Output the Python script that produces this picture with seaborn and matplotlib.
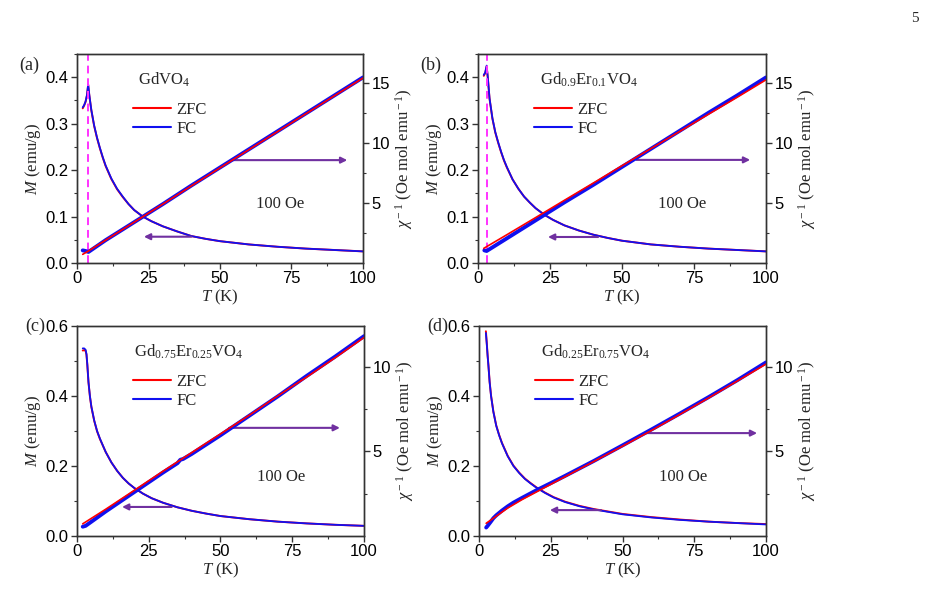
import numpy as np
import pandas as pd
import matplotlib
matplotlib.use("Agg")
import matplotlib.pyplot as plt
from matplotlib.lines import Line2D
from matplotlib.ticker import MultipleLocator, FixedLocator
import seaborn as sns

# ==============================================================================
# DATOS
# ==============================================================================
# (a) GdVO4
T_A_M = [2.0, 2.5, 3.0, 3.5, 3.9, 4.3, 5, 6, 7, 8, 9, 10, 12, 14, 16, 18, 20, 23, 26,
         30, 35, 40, 45, 50, 60, 70, 80, 90, 100]
A_FC_M = [0.335, 0.340, 0.348, 0.362, 0.385, 0.362, 0.330, 0.296, 0.270, 0.248, 0.228,
          0.210, 0.182, 0.160, 0.143, 0.127, 0.114, 0.100, 0.090, 0.079, 0.068, 0.058,
          0.052, 0.047, 0.040, 0.035, 0.031, 0.028, 0.025]
A_ZFC_M = [0.333, 0.339, 0.347, 0.361, 0.383, 0.361, 0.329, 0.295, 0.269, 0.247, 0.227,
           0.209, 0.181, 0.159, 0.142, 0.127, 0.114, 0.100, 0.090, 0.079, 0.068, 0.058,
           0.052, 0.047, 0.040, 0.035, 0.031, 0.028, 0.025]
T_A_FC_CHI = [2.0, 3.0, 4.0, 10, 20, 30, 40, 50, 60, 70, 80, 90, 100]
A_FC_CHI = [1.05, 1.00, 0.92, 1.90, 3.40, 4.90, 6.45, 7.95, 9.45, 10.95, 12.45, 13.95, 15.45]
T_A_ZFC_CHI = [2.0, 4.0, 10, 20, 30, 40, 50, 60, 70, 80, 90, 100]
A_ZFC_CHI = [0.72, 1.00, 1.90, 3.40, 4.90, 6.42, 7.92, 9.42, 10.92, 12.42, 13.92, 15.40]

# (b) Gd0.9Er0.1VO4
T_B_M = [2.0, 2.5, 3.0, 3.4, 4.0, 5, 6, 7, 8, 9, 10, 12, 14, 16, 18, 20, 23, 26, 30,
         35, 40, 45, 50, 60, 70, 80, 90, 100]
B_FC_M = [0.405, 0.410, 0.425, 0.400, 0.355, 0.312, 0.282, 0.260, 0.240, 0.222, 0.207,
          0.180, 0.160, 0.143, 0.130, 0.118, 0.104, 0.093, 0.081, 0.070, 0.061, 0.054,
          0.048, 0.040, 0.035, 0.031, 0.028, 0.025]
B_ZFC_M = [0.403, 0.409, 0.423, 0.399, 0.354, 0.311, 0.281, 0.259, 0.239, 0.221, 0.206,
           0.180, 0.160, 0.143, 0.130, 0.118, 0.104, 0.093, 0.081, 0.070, 0.061, 0.054,
           0.048, 0.040, 0.035, 0.031, 0.028, 0.025]
T_B_FC_CHI = [2.2, 3.0, 10, 20, 30, 40, 50, 60, 70, 80, 90, 100]
B_FC_CHI = [1.05, 1.00, 2.05, 3.55, 5.05, 6.5, 8.0, 9.5, 11.0, 12.5, 13.95, 15.45]
T_B_ZFC_CHI = [2.0, 10, 20, 30, 40, 50, 60, 70, 80, 90, 100]
B_ZFC_CHI = [1.22, 2.35, 3.78, 5.22, 6.65, 8.10, 9.52, 10.95, 12.38, 13.8, 15.25]

# (c) Gd0.75Er0.25VO4
T_C_M = [2.0, 2.5, 3.0, 3.3, 3.6, 4.0, 4.5, 5, 6, 7, 8, 10, 12, 14, 16, 18, 20, 23, 26,
         30, 35, 40, 45, 50, 60, 70, 80, 90, 100]
C_FC_M = [0.536, 0.536, 0.532, 0.520, 0.490, 0.440, 0.400, 0.370, 0.330, 0.300, 0.278,
          0.240, 0.210, 0.186, 0.166, 0.150, 0.137, 0.121, 0.108, 0.095, 0.082, 0.072,
          0.064, 0.057, 0.048, 0.041, 0.036, 0.032, 0.029]
C_ZFC_M = [0.530, 0.531, 0.529, 0.518, 0.488, 0.439, 0.399, 0.369, 0.329, 0.299, 0.277,
           0.240, 0.210, 0.186, 0.166, 0.150, 0.137, 0.121, 0.108, 0.095, 0.082, 0.072,
           0.064, 0.057, 0.048, 0.041, 0.036, 0.032, 0.029]
T_C_FC_CHI = [2.0, 3.0, 10, 20, 30, 35, 36, 37, 40, 50, 60, 70, 80, 90, 100]
C_FC_CHI = [0.55, 0.60, 1.45, 2.60, 3.75, 4.30, 4.50, 4.55, 4.85, 5.95, 7.10, 8.25,
            9.45, 10.60, 11.80]
T_C_ZFC_CHI = [2.0, 10, 20, 30, 40, 50, 60, 70, 80, 90, 100]
C_ZFC_CHI = [0.72, 1.58, 2.70, 3.83, 4.93, 6.03, 7.13, 8.28, 9.38, 10.53, 11.72]

# (d) Gd0.25Er0.75VO4
T_D_M = [2.4, 2.7, 3.0, 3.3, 3.7, 4.2, 5, 6, 7, 8, 10, 12, 14, 16, 18, 20, 23, 26, 30,
         35, 40, 45, 50, 60, 70, 80, 90, 100]
D_FC_M = [0.580, 0.550, 0.515, 0.485, 0.440, 0.400, 0.355, 0.315, 0.288, 0.265, 0.228,
          0.200, 0.180, 0.163, 0.150, 0.138, 0.123, 0.110, 0.097, 0.085, 0.076, 0.069,
          0.062, 0.053, 0.046, 0.041, 0.037, 0.033]
D_ZFC_M = [0.585, 0.552, 0.516, 0.486, 0.441, 0.401, 0.356, 0.316, 0.289, 0.266, 0.229,
           0.201, 0.181, 0.164, 0.151, 0.139, 0.124, 0.111, 0.098, 0.086, 0.077, 0.070,
           0.063, 0.054, 0.047, 0.041, 0.037, 0.034]
T_D_FC_CHI = [2.5, 3, 4, 5, 6, 8, 10, 12, 15, 20, 25, 30, 40, 50, 60, 70, 80, 90, 100]
D_FC_CHI = [0.50, 0.60, 0.82, 1.05, 1.22, 1.50, 1.75, 1.97, 2.25, 2.70, 3.12, 3.55,
            4.43, 5.35, 6.28, 7.23, 8.20, 9.20, 10.25]
T_D_ZFC_CHI = [2.5, 5, 10, 15, 20, 30, 40, 50, 60, 70, 80, 90, 100]
D_ZFC_CHI = [0.75, 1.05, 1.65, 2.15, 2.60, 3.50, 4.40, 5.30, 6.22, 7.18, 8.15, 9.15, 10.15]

PANEL_LETTERS = ["(a)", "(b)", "(c)", "(d)"]
COMPOUNDS = [r"GdVO$_4$", r"Gd$_{0.9}$Er$_{0.1}$VO$_4$",
             r"Gd$_{0.75}$Er$_{0.25}$VO$_4$", r"Gd$_{0.25}$Er$_{0.75}$VO$_4$"]
TC_LINES = [3.8, 3.0, None, None]
# flechas: (T_cola, T_punta, M) en unidades del eje izquierdo
ARROWS_RIGHT = [(54.5, 94.5, 0.2215), (55, 94.5, 0.222), (53, 91.6, 0.309), (57.8, 96.9, 0.294)]
ARROWS_LEFT = [(40, 23.4, 0.0566), (41.7, 24.3, 0.056), (33, 15.7, 0.083), (42.5, 24.7, 0.074)]

# ==============================================================================
# ESTILO
# ==============================================================================
sns.set_theme(style="ticks")
plt.rcParams.update({
    'font.family': ['Liberation Serif', 'DejaVu Serif'],
    'mathtext.fontset': 'custom',
    'mathtext.rm': 'Liberation Serif',
    'mathtext.it': 'Liberation Serif:italic',
    'mathtext.bf': 'Liberation Serif:bold',
    'axes.edgecolor': '#333333',
    'axes.linewidth': 1.0,
    'xtick.color': '#333333',
    'ytick.color': '#333333',
    'xtick.labelcolor': 'black',
    'ytick.labelcolor': 'black',
})

RED = '#ff0000'
BLUE = '#1010f0'
PURPLE = '#7030a0'
MAGENTA = '#ff33ff'

panels = [
    (T_A_M, A_FC_M, A_ZFC_M, T_A_FC_CHI, A_FC_CHI, T_A_ZFC_CHI, A_ZFC_CHI),
    (T_B_M, B_FC_M, B_ZFC_M, T_B_FC_CHI, B_FC_CHI, T_B_ZFC_CHI, B_ZFC_CHI),
    (T_C_M, C_FC_M, C_ZFC_M, T_C_FC_CHI, C_FC_CHI, T_C_ZFC_CHI, C_ZFC_CHI),
    (T_D_M, D_FC_M, D_ZFC_M, T_D_FC_CHI, D_FC_CHI, T_D_ZFC_CHI, D_ZFC_CHI),
]
positions = [
    [77 / 928, 1 - 263 / 606, 286 / 928, 209 / 606],
    [478 / 928, 1 - 263 / 606, 288 / 928, 209 / 606],
    [77 / 928, 1 - 536 / 606, 287 / 928, 210 / 606],
    [479 / 928, 1 - 536 / 606, 287 / 928, 210 / 606],
]

fig = plt.figure(figsize=(9.28, 6.06), dpi=100)

for i, (tm, fcm, zfcm, tfc, fcchi, tzfc, zfcchi) in enumerate(panels):
    ax = fig.add_axes(positions[i])
    ax2 = ax.twinx()

    sns.lineplot(x=tm, y=zfcm, ax=ax, color=RED, linewidth=1.4, sort=False)
    sns.lineplot(x=tm, y=fcm, ax=ax, color=BLUE, linewidth=1.3, sort=False)
    sns.lineplot(x=tfc, y=fcchi, ax=ax2, color=BLUE, linewidth=2.8, sort=False)
    sns.lineplot(x=tzfc, y=zfcchi, ax=ax2, color=RED, linewidth=1.2, sort=False)

    if TC_LINES[i] is not None:
        ax.axvline(TC_LINES[i], color=MAGENTA, linestyle=(0, (4, 2.5)), linewidth=1.4)

    top = i < 2
    ax.set_xlim(0, 100)
    if top:
        ax.set_ylim(0, 0.45)
        ax.yaxis.set_major_locator(MultipleLocator(0.1))
        ax.yaxis.set_minor_locator(MultipleLocator(0.05))
        ax2.set_ylim(0, 17.4)
        ax2.yaxis.set_major_locator(FixedLocator([5, 10, 15]))
    else:
        ax.set_ylim(0, 0.6)
        ax.yaxis.set_major_locator(MultipleLocator(0.2))
        ax.yaxis.set_minor_locator(MultipleLocator(0.1))
        ax2.set_ylim(0, 12.4)
        ax2.yaxis.set_major_locator(FixedLocator([5, 10]))
    ax2.yaxis.set_minor_locator(FixedLocator([2.5, 7.5, 12.5]))
    ax.xaxis.set_major_locator(MultipleLocator(25))
    ax.xaxis.set_minor_locator(MultipleLocator(12.5))

    for a in (ax, ax2):
        a.tick_params(which='major', length=4, width=1.0, labelsize=12, pad=2)
        a.tick_params(which='minor', length=2.5, width=0.8)
        for lab in a.get_xticklabels() + a.get_yticklabels():
            lab.set_fontfamily('Liberation Sans')
    ax.tick_params(axis='x', which='both', top=False)
    ax2.tick_params(axis='x', which='both', top=False)

    ax.set_xlabel(r'$\mathit{T}$ (K)', fontsize=12, labelpad=1)
    ax.set_ylabel(r'$\mathit{M}$ (emu/g)', fontsize=12, labelpad=2)
    ax2.set_ylabel(r'$\mathit{\chi}^{\rm -1}$ (Oe mol emu$^{\rm -1}$)', fontsize=12, labelpad=2)

    # flechas
    t0, t1, yv = ARROWS_RIGHT[i]
    ax.annotate('', xy=(t1, yv), xytext=(t0, yv),
                arrowprops=dict(arrowstyle='-|>', color=PURPLE, lw=1.5,
                                mutation_scale=9, shrinkA=0, shrinkB=0))
    t0, t1, yv = ARROWS_LEFT[i]
    ax.annotate('', xy=(t1, yv), xytext=(t0, yv),
                arrowprops=dict(arrowstyle='-|>', color=PURPLE, lw=1.5,
                                mutation_scale=9, shrinkA=0, shrinkB=0))

    ax.text(0.215 if i != 2 else 0.2, 0.876, COMPOUNDS[i], transform=ax.transAxes,
            fontsize=12, ha='left', va='center')
    ax.text(0.71, 0.28, '100 Oe', transform=ax.transAxes, fontsize=12,
            ha='center', va='center')

    handles = [Line2D([0], [0], color=RED, lw=1.5), Line2D([0], [0], color=BLUE, lw=1.5)]
    ax2.legend(handles, ['ZFC', 'FC'], loc='upper left', bbox_to_anchor=(0.195, 0.77),
               frameon=False, fontsize=12, handlelength=2.3, handletextpad=0.3,
               labelspacing=0.15, borderpad=0, borderaxespad=0)

    x_letter = positions[i][0] - 58 / 928 if top else positions[i][0] - 52 / 928
    y_letter = positions[i][1] + positions[i][3] - (11 / 606 if top else 0)
    fig.text(x_letter, y_letter, PANEL_LETTERS[i], fontsize=13, ha='left', va='center')

fig.text(0.986, 0.97, '5', fontsize=11, ha='center', va='center')

fig.savefig('out.png', dpi=100)
